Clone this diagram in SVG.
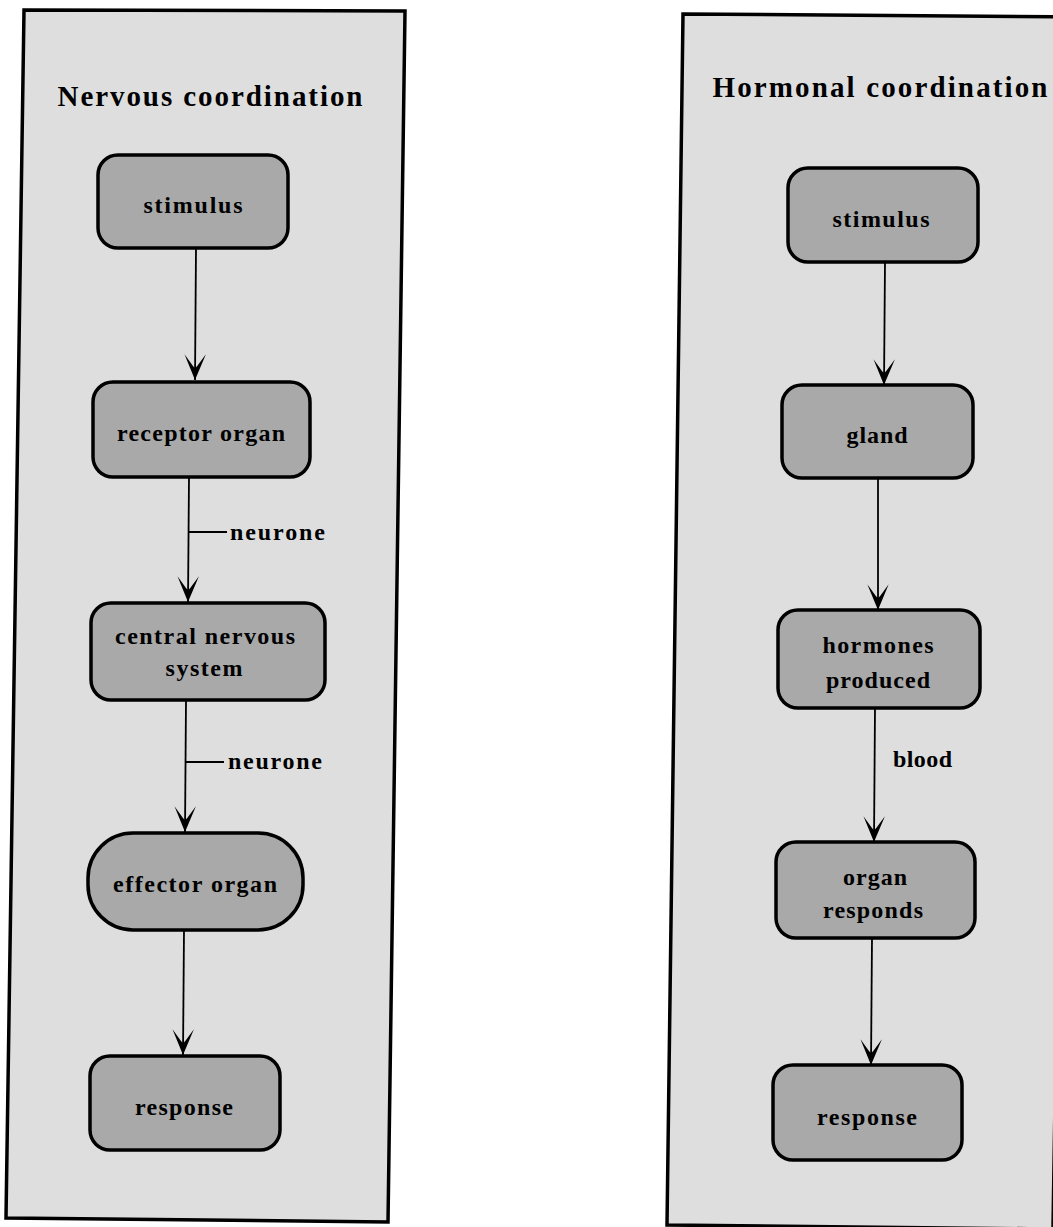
<svg xmlns="http://www.w3.org/2000/svg" width="1053" height="1227" viewBox="0 0 1053 1227">
<style>
.panel{fill:#dedede;stroke:#000;stroke-width:3.5}
.box{fill:#a9a9a9;stroke:#000;stroke-width:3.5}
.t{font-family:"Liberation Serif","Times New Roman",serif;font-weight:bold;fill:#000;font-size:24px}
.title{font-size:29px}
.c{text-anchor:middle}
.edge{stroke:#000;stroke-width:1.8;fill:none}
</style>
<defs>
<marker id="ah" markerUnits="userSpaceOnUse" markerWidth="30" markerHeight="30" viewBox="-26 -13 28 26" refX="0" refY="0" orient="auto" overflow="visible">
<path d="M0,0 L-24,-10 L-13,-2 L-11,0 L-13,2 L-24,10 Z" fill="#000"/>
</marker>
</defs>
<rect width="1053" height="1227" fill="#fff"/>
<g id="panel-nervous">
<polygon class="panel" points="24,10 405,11 388,1222 6,1218"/>
<text class="t title c" x="210" y="106" textLength="305" lengthAdjust="spacing">Nervous coordination</text>
</g>
<g id="panel-hormonal">
<polygon class="panel" points="683,14 1072,17 1053,1229 667,1225"/>
<text class="t title c" x="880" y="97" textLength="335" lengthAdjust="spacing">Hormonal coordination</text>
</g>
<g id="connectors">
<line class="edge" x1="196" y1="248" x2="195" y2="380" marker-end="url(#ah)"/>
<line class="edge" x1="189" y1="477" x2="188" y2="602" marker-end="url(#ah)"/>
<line class="edge" x1="189" y1="532" x2="227" y2="532"/>
<text class="t" x="230" y="540" textLength="95" lengthAdjust="spacing">neurone</text>
<line class="edge" x1="186" y1="700" x2="185" y2="832" marker-end="url(#ah)"/>
<line class="edge" x1="186" y1="762" x2="224" y2="762"/>
<text class="t" x="228" y="769" textLength="94" lengthAdjust="spacing">neurone</text>
<line class="edge" x1="184" y1="930" x2="183" y2="1055" marker-end="url(#ah)"/>
<line class="edge" x1="885" y1="262" x2="884" y2="385" marker-end="url(#ah)"/>
<line class="edge" x1="878" y1="478" x2="878" y2="610" marker-end="url(#ah)"/>
<line class="edge" x1="875" y1="708" x2="874" y2="842" marker-end="url(#ah)"/>
<text class="t" x="893" y="767" textLength="59" lengthAdjust="spacing">blood</text>
<line class="edge" x1="872" y1="938" x2="871" y2="1065" marker-end="url(#ah)"/>
</g>
<g id="n-stimulus-l">
<rect class="box" x="98" y="155" width="190" height="93" rx="20"/>
<text class="t c" x="193" y="213" textLength="99" lengthAdjust="spacing">stimulus</text>
</g>
<g id="n-receptor">
<rect class="box" x="93" y="382" width="217" height="95" rx="20"/>
<text class="t c" x="201" y="441" textLength="168" lengthAdjust="spacing">receptor organ</text>
</g>
<g id="n-cns">
<rect class="box" x="91" y="603" width="234" height="97" rx="20"/>
<text class="t c" x="205" y="644" textLength="180" lengthAdjust="spacing">central nervous</text>
<text class="t c" x="204" y="676" textLength="77" lengthAdjust="spacing">system</text>
</g>
<g id="n-effector">
<rect class="box" x="88" y="833" width="215" height="97" rx="45"/>
<text class="t c" x="195" y="892" textLength="164" lengthAdjust="spacing">effector organ</text>
</g>
<g id="n-response-l">
<rect class="box" x="90" y="1056" width="190" height="94" rx="20"/>
<text class="t c" x="184" y="1115" textLength="98" lengthAdjust="spacing">response</text>
</g>
<g id="n-stimulus-r">
<rect class="box" x="788" y="168" width="190" height="94" rx="20"/>
<text class="t c" x="881" y="227" textLength="97" lengthAdjust="spacing">stimulus</text>
</g>
<g id="n-gland">
<rect class="box" x="782" y="385" width="191" height="93" rx="20"/>
<text class="t c" x="877" y="443" textLength="61" lengthAdjust="spacing">gland</text>
</g>
<g id="n-hormones">
<rect class="box" x="778" y="610" width="202" height="98" rx="20"/>
<text class="t c" x="878" y="653" textLength="111" lengthAdjust="spacing">hormones</text>
<text class="t c" x="878" y="688" textLength="104" lengthAdjust="spacing">produced</text>
</g>
<g id="n-organ">
<rect class="box" x="776" y="842" width="199" height="96" rx="20"/>
<text class="t c" x="875" y="885" textLength="64" lengthAdjust="spacing">organ</text>
<text class="t c" x="873" y="918" textLength="100" lengthAdjust="spacing">responds</text>
</g>
<g id="n-response-r">
<rect class="box" x="773" y="1065" width="189" height="95" rx="20"/>
<text class="t c" x="867" y="1125" textLength="100" lengthAdjust="spacing">response</text>
</g>
</svg>
